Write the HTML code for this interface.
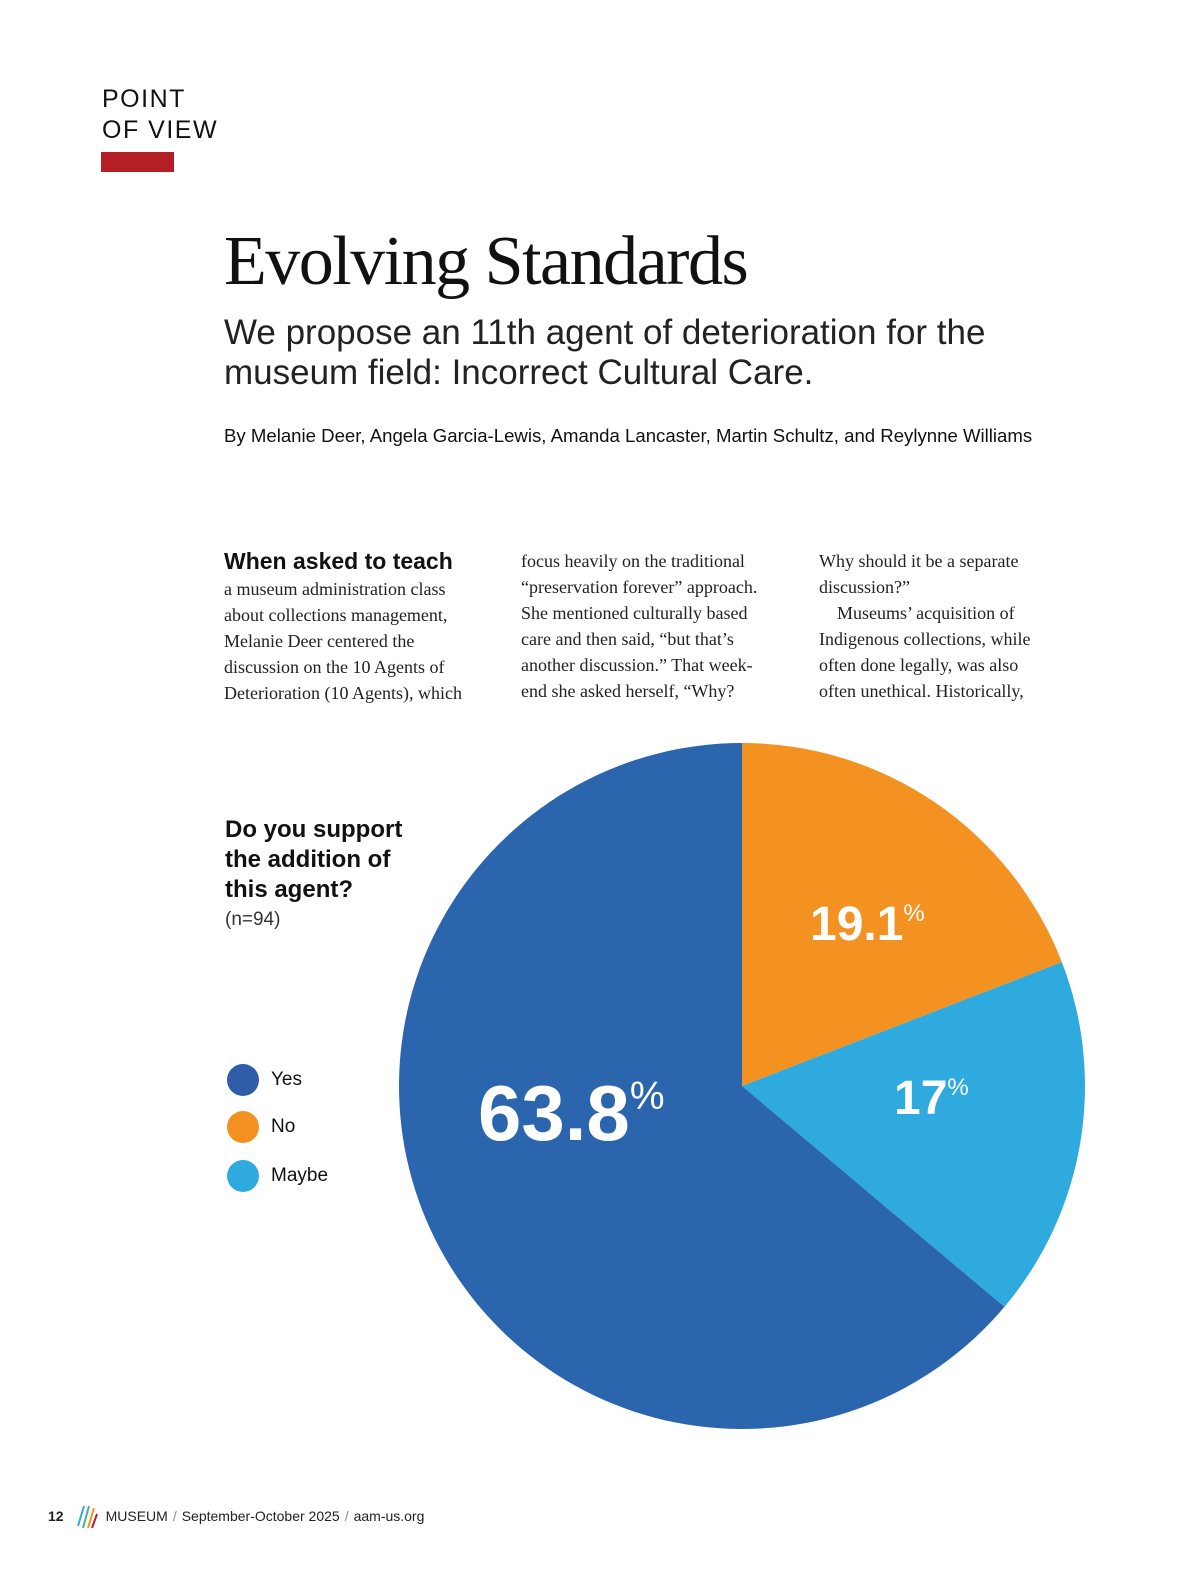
<!DOCTYPE html>
<html><head><meta charset="utf-8">
<style>
body{margin:0;width:1200px;height:1582px;background:#fff;position:relative;overflow:hidden;font-family:"Liberation Sans",sans-serif;color:#111}
.a{position:absolute}
.col{position:absolute;top:548px;width:252px;font-family:"Liberation Serif",serif;font-size:18px;line-height:26px;color:#222}
.leg{position:absolute;left:227px;display:flex;align-items:center;font-size:19px}
.leg span{width:32px;height:32px;border-radius:50%;display:inline-block;margin-right:12px}
</style></head><body>
<div class="a" style="left:102px;top:84px;font-size:25px;line-height:31px;letter-spacing:1.5px">POINT<br>OF VIEW</div>
<div class="a" style="left:101px;top:152px;width:73px;height:20px;background:#b41f25"></div>
<div class="a" style="left:224px;top:222px;font-family:'Liberation Serif',serif;font-size:70px;letter-spacing:-1.5px">Evolving Standards</div>
<div class="a" style="left:224px;top:313px;font-size:35px;line-height:40px;color:#222">We propose an 11th agent of deterioration for the<br>museum field: Incorrect Cultural Care.</div>
<div class="a" style="left:224px;top:425px;font-size:18.6px;white-space:nowrap">By Melanie Deer, Angela Garcia-Lewis, Amanda Lancaster, Martin Schultz, and Reylynne Williams</div>
<div class="col" style="left:224px"><b style="font-family:'Liberation Sans',sans-serif;font-size:23px;color:#111">When asked to teach</b><br>a museum administration class about collections management, Melanie Deer centered the discussion on the 10 Agents of Deterioration (10 Agents), which</div>
<div class="col" style="left:521px;width:262px">focus heavily on the traditional “preservation forever” approach. She mentioned culturally based<br>care and then said, “but that’s<br>another discussion.” That week-<br>end she asked herself, “Why?</div>
<div class="col" style="left:819px;width:240px">Why should it be a separate discussion?”<br>&nbsp;&nbsp;&nbsp;&nbsp;Museums’ acquisition of Indigenous collections, while often done legally, was also often unethical. Historically,</div>
<div class="a" style="left:225px;top:815px;font-size:24px;line-height:30px;font-weight:bold">Do you support<br>the addition of<br>this agent?</div>
<div class="a" style="left:225px;top:909px;font-size:19px;color:#333">(n=94)</div>
<div class="leg" style="top:1064px"><span style="background:#2f5ca8"></span>Yes</div>
<div class="leg" style="top:1111px"><span style="background:#f39220"></span>No</div>
<div class="leg" style="top:1160px"><span style="background:#2eaadf"></span>Maybe</div>
<svg class="a" id="pie" style="left:0;top:0" width="1200" height="1582"></svg>
<div class="a" style="left:48px;top:1502px;font-size:14px;color:#222;display:flex;align-items:center"><b style="margin-right:12px">12</b>
<svg width="22" height="28" style="margin-right:8px"><g stroke-width="2"><line x1="2" y1="24" x2="8" y2="4" stroke="#2eaadf"/><line x1="7" y1="26" x2="13" y2="4" stroke="#5a9"/><line x1="12" y1="26" x2="18" y2="6" stroke="#f39220"/><line x1="16" y1="26" x2="21" y2="12" stroke="#b41f25"/></g></svg>
MUSEUM <span style="color:#888;margin:0 5px">/</span> September-October 2025 <span style="color:#888;margin:0 5px">/</span> aam-us.org</div>
<script>
const categories=["No","Maybe","Yes"];
const values=[19.1,17,63.8];
const colors=["#f39220","#2eaadf","#2b65ae"];
const labels=["19.1","17","63.8"];
const svg=document.getElementById('pie');
const NS="http://www.w3.org/2000/svg";
const cx=742,cy=1086,r=343;
const total=values.reduce((a,b)=>a+b,0);
function pt(frac,rad){const a=frac*2*Math.PI;return[cx+rad*Math.sin(a),cy-rad*Math.cos(a)];}
let acc=0;
const labelPos=[[810,940,48],[894,1114,48],[478,1140,78]];
values.forEach((v,i)=>{
  const s=acc/total,e=(acc+v)/total;acc+=v;
  const [x1,y1]=pt(s,r),[x2,y2]=pt(e,r);
  const p=document.createElementNS(NS,'path');
  p.setAttribute('d',`M${cx},${cy}L${x1},${y1}A${r},${r} 0 ${e-s>0.5?1:0} 1 ${x2},${y2}Z`);
  p.setAttribute('fill',colors[i]);
  
  
  svg.appendChild(p);
});
values.forEach((v,i)=>{
  const [x,y,fs]=labelPos[i];
  const t=document.createElementNS(NS,'text');
  t.setAttribute('x',x);t.setAttribute('y',y);
  t.setAttribute('fill','#fff');t.setAttribute('font-weight','bold');
  t.setAttribute('font-size',fs);t.setAttribute('font-family','Liberation Sans, sans-serif');
  t.innerHTML=labels[i]+'<tspan font-size="'+(fs*0.5)+'" dy="'+(-fs*0.4)+'" font-weight="normal">%</tspan>';
  
  
  svg.appendChild(t);
});
</script>
</body></html>
